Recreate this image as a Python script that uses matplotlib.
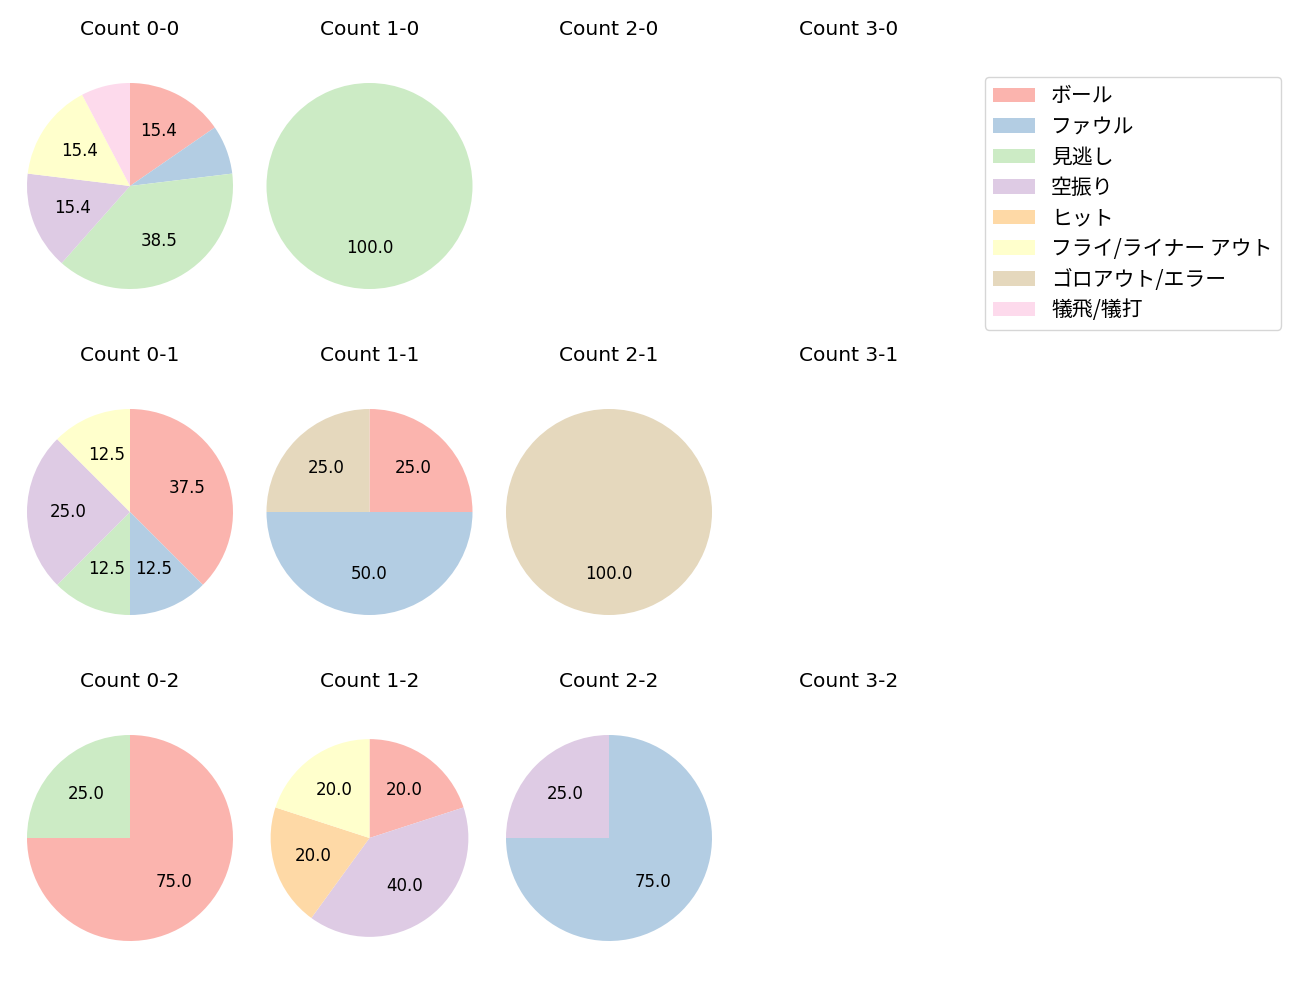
import matplotlib
matplotlib.use("Agg")
import matplotlib.pyplot as plt
from matplotlib.patches import Patch

plt.rcParams['font.family'] = ['DejaVu Sans', 'Noto Sans CJK JP']

# Категории исходов
categories = ['ボール', 'ファウル', '見逃し', '空振り', 'ヒット',
              'フライ/ライナー アウト', 'ゴロアウト/エラー', '犠飛/犠打']
colors = ['#fbb4ae', '#b3cde3', '#ccebc5', '#decbe4',
          '#fed9a6', '#ffffcc', '#e5d8bd', '#fddaec']

# Количество исходов для каждого счёта (балл-страйк)
count_0_0 = [2, 1, 5, 2, 0, 2, 0, 1]
count_1_0 = [0, 0, 1, 0, 0, 0, 0, 0]
count_2_0 = [0, 0, 0, 0, 0, 0, 0, 0]
count_3_0 = [0, 0, 0, 0, 0, 0, 0, 0]
count_0_1 = [3, 1, 1, 2, 0, 1, 0, 0]
count_1_1 = [1, 2, 0, 0, 0, 0, 1, 0]
count_2_1 = [0, 0, 0, 0, 0, 0, 1, 0]
count_3_1 = [0, 0, 0, 0, 0, 0, 0, 0]
count_0_2 = [3, 0, 1, 0, 0, 0, 0, 0]
count_1_2 = [1, 0, 0, 2, 1, 1, 0, 0]
count_2_2 = [0, 3, 0, 1, 0, 0, 0, 0]
count_3_2 = [0, 0, 0, 0, 0, 0, 0, 0]

grid = [
    [count_0_0, count_1_0, count_2_0, count_3_0],
    [count_0_1, count_1_1, count_2_1, count_3_1],
    [count_0_2, count_1_2, count_2_2, count_3_2],
]

W, H = 1300, 1000
fig = plt.figure(figsize=(13, 10), dpi=100)

box = 257.5  # размер квадратной оси в пикселях
for i, row in enumerate(grid):
    for j, vals in enumerate(row):
        cx = 130 + 239.5 * j
        cy = 186 + 326 * i
        ax = fig.add_axes([(cx - box / 2) / W, 1 - (cy + box / 2) / H, box / W, box / H])
        ax.set_title(f'Count {j}-{i}', fontsize=14.5, pad=16)
        if sum(vals) == 0:
            ax.axis('off')
            continue
        idx = [k for k, v in enumerate(vals) if v > 0]
        radius = 0.96 if (i, j) == (2, 1) else 1.0
        ax.pie([vals[k] for k in idx], colors=[colors[k] for k in idx],
               startangle=90, counterclock=False, radius=radius,
               autopct=lambda p: f'{p:.1f}' if p >= 10 else '',
               textprops={'fontsize': 12})

handles = [Patch(facecolor=c, label=l) for c, l in zip(colors, categories)]
fig.legend(handles=handles, loc='upper right', bbox_to_anchor=(1281 / W, 1 - 77 / H),
           borderaxespad=0, labelspacing=0.41,
           prop={'family': ['Noto Sans CJK JP', 'DejaVu Sans'], 'size': 15})

fig.savefig('out.png', dpi=100)
